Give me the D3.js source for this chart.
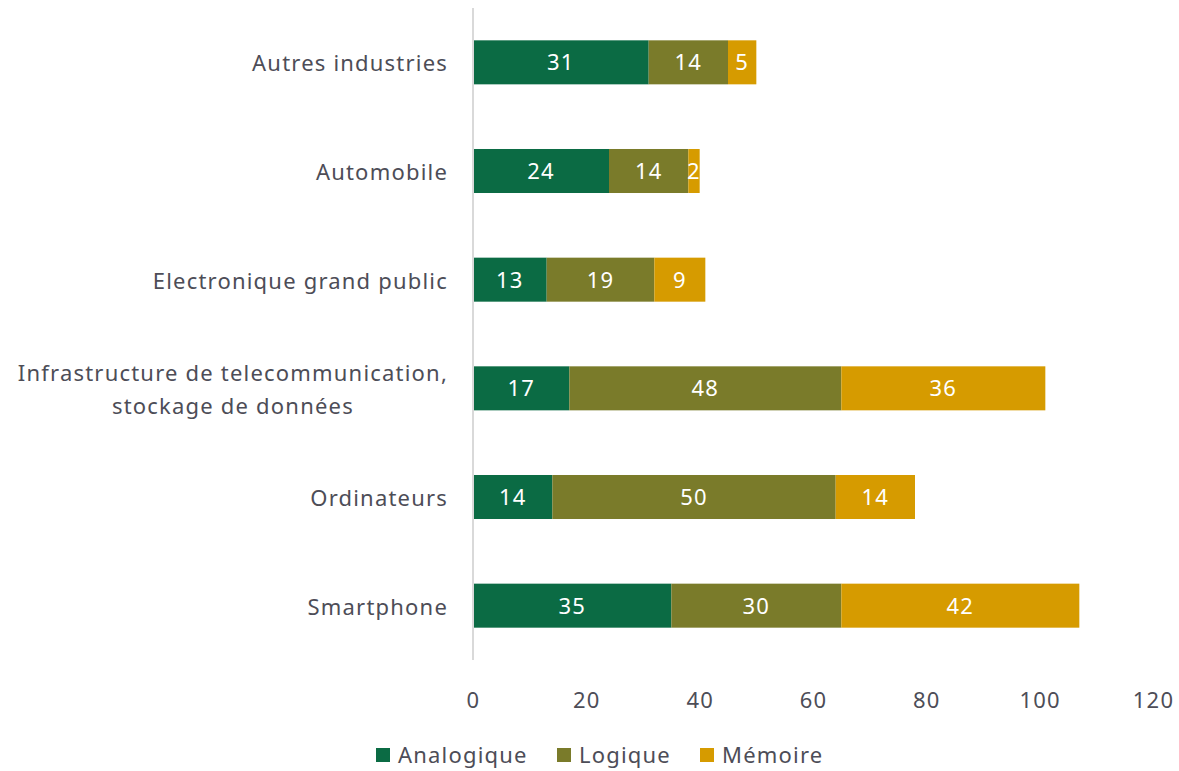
<!DOCTYPE html>
<html>
<head>
<meta charset="utf-8">
<script src="https://cdn.jsdelivr.net/npm/d3@7"></script>
<style>
  html, body { margin: 0; padding: 0; background: #fff; }
  svg { display: block; font-family: "Noto Sans", "Open Sans", sans-serif; }
  svg text { letter-spacing: 1.2px; }
</style>
</head>
<body>
<svg id="chart" width="1179" height="771"></svg>
<script>
// Semiconductor demand by end market, split by chip type
const categories = [
  "Autres industries",
  "Automobile",
  "Electronique grand public",
  "Infrastructure de telecommunication,\nstockage de données",
  "Ordinateurs",
  "Smartphone"
];
const analogique = [31, 24, 13, 17, 14, 35];
const logique    = [14, 14, 19, 48, 50, 30];
const memoire    = [5, 2, 9, 36, 14, 42];
const seriesNames = ["Analogique", "Logique", "Mémoire"];
const seriesColors = ["#0b6b44", "#7a7b2a", "#d69b00"];
const xTicks = [0, 20, 40, 60, 80, 100, 120];

const rows = categories.map((c, i) => ({
  cat: c, Analogique: analogique[i], Logique: logique[i], "Mémoire": memoire[i]
}));
const stacked = d3.stack().keys(seriesNames)(rows);

const svg = d3.select("#chart");
const x = d3.scaleLinear().domain([0, 120]).range([473, 1153]);
const y = d3.scaleBand().domain(categories).range([8, 660])
  .paddingInner(0.595).paddingOuter(0.2975);
const color = d3.scaleOrdinal().domain(seriesNames).range(seriesColors);
const textColor = "#4d4d57";
const fontSize = 22;

// Bars
const layers = svg.append("g").selectAll("g").data(stacked).join("g")
  .attr("fill", d => color(d.key));
layers.selectAll("rect").data(d => d).join("rect")
  .attr("x", d => x(d[0]))
  .attr("y", d => y(d.data.cat))
  .attr("width", d => x(d[1]) - x(d[0]))
  .attr("height", y.bandwidth());

// Value labels inside segments
layers.selectAll("text").data(d => d.map(v => ({v, key: d.key}))).join("text")
  .attr("x", d => (x(d.v[0]) + x(d.v[1])) / 2)
  .attr("y", d => y(d.v.data.cat) + y.bandwidth() / 2)
  .attr("dy", "0.36em")
  .attr("text-anchor", "middle")
  .attr("fill", "#fff")
  .attr("font-size", fontSize)
  .attr("letter-spacing", "0.5px")
  .text(d => d.v[1] - d.v[0]);

// Vertical baseline
svg.append("line")
  .attr("x1", x(0)).attr("x2", x(0))
  .attr("y1", 8).attr("y2", 660)
  .attr("stroke", "#d9d9d9").attr("stroke-width", 2);

// Category labels: right-aligned block, lines centred within it
const labelRight = 448;
const lineGap = 33;
const catG = svg.append("g");
categories.forEach(c => {
  const lines = c.split("\n");
  const cy = y(c) + y.bandwidth() / 2;
  const t = catG.append("text")
    .attr("text-anchor", "middle")
    .attr("fill", textColor)
    .attr("font-size", fontSize);
  const spans = lines.map((ln, i) => t.append("tspan")
    .attr("y", cy + 1 + (i - (lines.length - 1) / 2) * lineGap)
    .attr("dy", "0.36em")
    .text(ln));
  const maxW = d3.max(spans, s => s.node().getComputedTextLength());
  spans.forEach(s => s.attr("x", labelRight - maxW / 2));
});

// X axis tick labels
const xAxis = d3.axisBottom(x).tickValues(xTicks).tickSize(0).tickPadding(0);
const ax = svg.append("g").attr("transform", "translate(0,700)").call(xAxis);
ax.select(".domain").remove();
ax.selectAll("text")
  .attr("font-size", fontSize)
  .attr("font-family", "'Noto Sans', 'Open Sans', sans-serif")
  .attr("fill", textColor)
  .attr("dy", "0.36em")
  .attr("y", 0);

// Legend
const legendX = [376, 557, 700];
const lg = svg.append("g").selectAll("g").data(seriesNames).join("g")
  .attr("transform", (d, i) => `translate(${legendX[i]},755)`);
lg.append("rect").attr("x", 0).attr("y", -7).attr("width", 14).attr("height", 14)
  .attr("fill", d => color(d));
lg.append("text").attr("x", 22).attr("dy", "0.36em")
  .attr("font-size", fontSize).attr("fill", textColor)
  .text(d => d);
</script>
</body>
</html>
